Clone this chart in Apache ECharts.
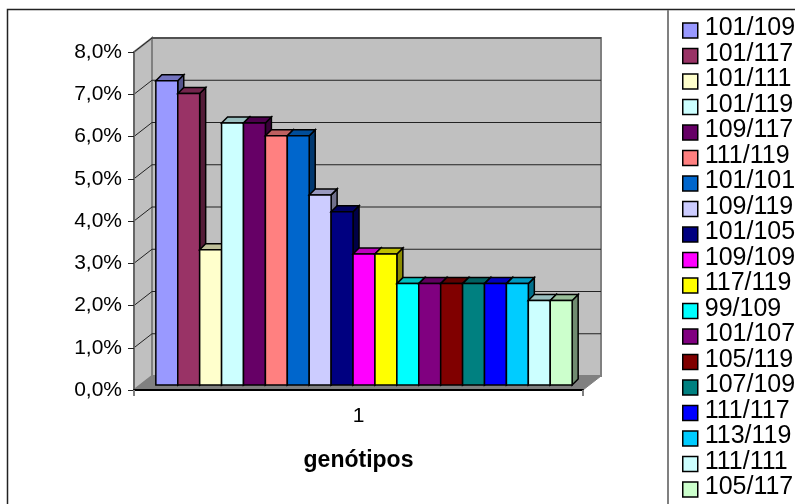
<!DOCTYPE html>
<html>
<head>
<meta charset="utf-8">
<style>html,body{margin:0;padding:0;background:#fff}#c{width:795px;height:504px}</style>
<script src="https://cdn.jsdelivr.net/npm/echarts@6/dist/echarts.min.js"></script>
</head>
<body>
<div id="c"></div>
<script>
const categories = ['1'];
const genotypes = ['101/109','101/117','101/111','101/119','109/117','111/119','101/101','109/119','101/105','109/109','117/119','99/109','101/107','105/119','107/109','111/117','113/119','111/111','105/117'];
const percentages = [7.2,6.9,3.2,6.2,6.2,5.9,5.9,4.5,4.1,3.1,3.1,2.4,2.4,2.4,2.4,2.4,2.4,2.0,2.0];
const palette = ['#9999FF','#993366','#FFFFCC','#CCFFFF','#660066','#FF8080','#0066CC','#CCCCFF','#000080','#FF00FF','#FFFF00','#00FFFF','#800080','#800000','#008080','#0000FF','#00CCFF','#CCFFFF','#CCFFCC'];
const yTicks = [0,1,2,3,4,5,6,7,8];

const FONT = '"Liberation Sans", Arial, sans-serif';
const WALL = [18, -14];      // depth of the floor/walls
const BAR_SHIFT = [5.5, -5]; // where bars stand inside that depth
const BAR_DEPTH = [6, -6];
const BAR_SHARE = 0.0488;    // bar width as a share of the category band

function shade(hex, f) {
  const n = parseInt(hex.slice(1), 16);
  const c = [(n >> 16) & 255, (n >> 8) & 255, n & 255].map(v => Math.round(v * f));
  return 'rgb(' + c.join(',') + ')';
}
function poly(points, fill, stroke, lw) {
  return {type:'polygon', shape:{points}, style:{fill, stroke:stroke||null, lineWidth:lw||0}};
}
function seg(a, b, stroke, lw) {
  return {type:'line', shape:{x1:a[0],y1:a[1],x2:b[0],y2:b[1]}, style:{stroke, lineWidth:lw, fill:null}};
}
function add(p, d) { return [p[0]+d[0], p[1]+d[1]]; }

function renderFrame(params, api) {
  const band = api.size([1,0])[0];
  const c0 = api.coord([0, yTicks[0]]), c1 = api.coord([0, yTicks[yTicks.length-1]]);
  const fl = [c0[0]-band/2, c0[1]], fr = [c0[0]+band/2, c0[1]];
  const tl = [c1[0]-band/2, c1[1]], tr = [c1[0]+band/2, c1[1]];
  return {type:'group', children:[
    poly([add(fl,WALL),add(tl,WALL),add(tr,WALL),add(fr,WALL)], '#C0C0C0', '#808080', 2),
    poly([fl,tl,add(tl,WALL),add(fl,WALL)], '#C0C0C0', '#808080', 2),
    poly([fl,fr,add(fr,WALL),add(fl,WALL)], '#808080', '#808080', 1)
  ]};
}
function renderGrid(params, api) {
  const band = api.size([1,0])[0];
  const c = api.coord([0, api.value(1)]);
  const l = [c[0]-band/2, c[1]], r = [c[0]+band/2, c[1]];
  return {type:'group', children:[
    seg(l, add(l,WALL), '#222', 1),
    seg(add(l,WALL), add(r,WALL), '#222', 1)
  ]};
}
function renderBar(params, api) {
  const band = api.size([1,0])[0];
  const w = band * BAR_SHARE;
  const color = api.visual('color');
  const mid = (genotypes.length - 1) / 2;
  const top = api.coord([api.value(0), api.value(1)]);
  const base = api.coord([api.value(0), 0]);
  const x = top[0] + BAR_SHIFT[0] + (params.seriesIndex - 2 - mid) * w - w/2;
  const yt = top[1] + BAR_SHIFT[1], yb = base[1] + BAR_SHIFT[1];
  const a=[x,yt], b=[x+w,yt], c=[x+w,yb], d=[x,yb];
  return {type:'group', children:[
    poly([b,c,add(c,BAR_DEPTH),add(b,BAR_DEPTH)], shade(color,0.55), '#000', 1.5),
    poly([a,b,add(b,BAR_DEPTH),add(a,BAR_DEPTH)], shade(color,0.75), '#000', 1.5),
    poly([a,b,c,d], color, '#000', 1.5)
  ]};
}

const series = [
  {type:'custom', name:'walls', silent:true, z:1, renderItem:renderFrame, data:[[0,0]], encode:{x:0,y:1}},
  {type:'custom', name:'grid', silent:true, z:1, renderItem:renderGrid, data:yTicks.slice(1).map(t=>[0,t]), encode:{x:0,y:1}}
];
genotypes.forEach((g,i)=>{
  series.push({type:'custom', name:g, z:2, silent:true, renderItem:renderBar,
    itemStyle:{color:palette[i]}, data:[[0,percentages[i]]], encode:{x:0,y:1}});
});

const chart = echarts.init(document.getElementById('c'), null, {renderer:'canvas'});
chart.setOption({
  animation:false,
  backgroundColor:'#fff',
  tooltip:{show:false},
  grid:{left:134, top:52, width:449, height:338, containLabel:false},
  xAxis:{type:'category', data:categories, boundaryGap:true, z:5,
    axisLine:{lineStyle:{color:'#000', width:2}},
    axisTick:{show:true, alignWithLabel:false, length:6, lineStyle:{color:'#808080', width:2}},
    axisLabel:{fontFamily:FONT, fontSize:21, color:'#000', margin:16},
    name:'genótipos', nameLocation:'middle', nameGap:59,
    nameTextStyle:{fontFamily:FONT, fontSize:23, fontWeight:'bold', color:'#000'}
  },
  yAxis:{type:'value', min:0, max:8, interval:1, z:5,
    axisLine:{show:true, lineStyle:{color:'#666', width:2}},
    axisTick:{show:true, length:6, lineStyle:{color:'#222', width:1}},
    axisLabel:{fontFamily:FONT, fontSize:21, color:'#000', margin:12,
      formatter:v=>v.toFixed(1).replace('.',',')+'%'},
    splitLine:{show:false}
  },
  legend:{show:true, orient:'vertical', left:682, top:16, height:600, itemGap:-3.5, itemWidth:15, itemHeight:15,
    icon:'rect', selectedMode:false, padding:0, data:genotypes,
    itemStyle:{borderColor:'#000', borderWidth:1.5},
    textStyle:{fontFamily:FONT, fontSize:25, color:'#000',
      rich:{t:{fontFamily:FONT, fontSize:25, color:'#000', lineHeight:24, padding:[0,0,4,2]}}},
    formatter:n=>'{t|'+n+'}'
  },
  graphic:[
    {type:'rect', silent:true, z:0, shape:{x:7.5,y:9.5,width:820,height:520}, style:{fill:null, stroke:'#222', lineWidth:1.5}},
    {type:'line', silent:true, z:0, shape:{x1:668,y1:10,x2:668,y2:504}, style:{stroke:'#808080', lineWidth:2}}
  ],
  series
});
</script>
</body>
</html>
